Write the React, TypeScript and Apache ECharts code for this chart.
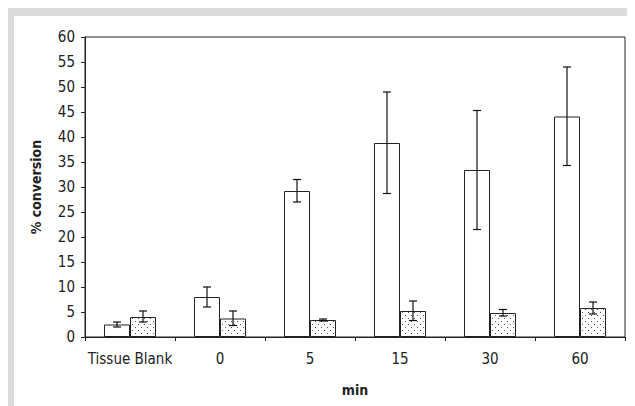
import React, { useEffect, useRef } from "react";
import * as echarts from "echarts";

const categories = ["Tissue Blank", "0", "5", "15", "30", "60"];
const whiteValues = [2.5, 8.0, 29.2, 38.8, 33.4, 44.1];
const whiteLow = [2.0, 6.0, 27.0, 28.7, 21.5, 34.3];
const whiteHigh = [3.0, 10.0, 31.5, 49.0, 45.3, 54.0];
const dotValues = [4.0, 3.7, 3.4, 5.2, 4.8, 5.8];
const dotLow = [3.0, 2.3, 3.2, 3.3, 4.2, 4.6];
const dotHigh = [5.2, 5.2, 3.6, 7.2, 5.5, 7.0];
const yTicks = { min: 0, max: 60, interval: 5 };

const FONT = "'DejaVu Sans Condensed', 'Liberation Sans Narrow', 'Liberation Sans', sans-serif";
const BAR_W = 26;

function makeDots(): HTMLCanvasElement {
  const c = document.createElement("canvas");
  c.width = 6;
  c.height = 6;
  const ctx = c.getContext("2d")!;
  ctx.fillStyle = "#ffffff";
  ctx.fillRect(0, 0, 6, 6);
  ctx.fillStyle = "#555555";
  ctx.fillRect(1, 1, 1, 1);
  ctx.fillRect(4, 4, 1, 1);
  return c;
}

function errorSeries(low: number[], high: number[], offset: number) {
  return {
    type: "custom",
    silent: true,
    z: 10,
    data: low.map((l, i) => [i, l, high[i]]),
    renderItem: (params: any, api: any) => {
      const i = api.value(0);
      const lo = api.coord([i, api.value(1)]);
      const hi = api.coord([i, api.value(2)]);
      const x = lo[0] + offset;
      const cap = 4;
      const st = { stroke: "#111", lineWidth: 1.2 };
      return {
        type: "group",
        children: [
          { type: "line", shape: { x1: x, y1: lo[1], x2: x, y2: hi[1] }, style: st },
          { type: "line", shape: { x1: x - cap, y1: lo[1], x2: x + cap, y2: lo[1] }, style: st },
          { type: "line", shape: { x1: x - cap, y1: hi[1], x2: x + cap, y2: hi[1] }, style: st },
        ],
      };
    },
  };
}

export default function App() {
  const ref = useRef<HTMLDivElement>(null);
  useEffect(() => {
    if (!ref.current) return;
    const chart = echarts.init(ref.current, null, { renderer: "svg" });
    const dots = makeDots();
    chart.setOption({
      animation: false,
      backgroundColor: "#ffffff",
      graphic: [
        { type: "rect", shape: { x: 0, y: 0, width: 627, height: 8 }, style: { fill: "#dcdcdc" }, silent: true },
        { type: "rect", shape: { x: 0, y: 0, width: 6, height: 398 }, style: { fill: "#dcdcdc" }, silent: true },
      ],
      grid: {
        left: 77,
        top: 29,
        right: 10,
        bottom: 69,
        show: true,
        borderColor: "#222",
        borderWidth: 1,
        backgroundColor: "transparent",
      },
      xAxis: {
        type: "category",
        data: categories,
        name: "min",
        nameLocation: "middle",
        nameGap: 46,
        nameTextStyle: { fontFamily: FONT, fontSize: 14, fontWeight: "bold", color: "#222" },
        axisLine: { lineStyle: { color: "#222", width: 1 } },
        axisTick: { show: true, length: 4, lineStyle: { color: "#222" } },
        axisLabel: { interval: 0, fontFamily: FONT, fontSize: 15, color: "#222", margin: 14 },
        splitLine: { show: false },
      },
      yAxis: {
        type: "value",
        min: yTicks.min,
        max: yTicks.max,
        interval: yTicks.interval,
        name: "% conversion",
        nameLocation: "middle",
        nameGap: 42,
        nameTextStyle: { fontFamily: FONT, fontSize: 14, fontWeight: "bold", color: "#222" },
        axisLine: { show: true, lineStyle: { color: "#222", width: 1 } },
        axisTick: { show: true, length: 4, lineStyle: { color: "#222" } },
        axisLabel: { fontFamily: FONT, fontSize: 15, color: "#222", margin: 10 },
        splitLine: { show: false },
      },
      series: [
        {
          type: "bar",
          data: whiteValues,
          barWidth: BAR_W,
          barGap: "0%",
          itemStyle: { color: "#ffffff", borderColor: "#222", borderWidth: 1 },
        },
        {
          type: "bar",
          data: dotValues,
          barWidth: BAR_W,
          barGap: "0%",
          itemStyle: { color: { image: dots, repeat: "repeat" }, borderColor: "#222", borderWidth: 1 },
        },
        errorSeries(whiteLow, whiteHigh, -BAR_W / 2),
        errorSeries(dotLow, dotHigh, BAR_W / 2),
      ],
    });
    return () => chart.dispose();
  }, []);
  return <div ref={ref} style={{ width: 627, height: 398 }} />;
}
